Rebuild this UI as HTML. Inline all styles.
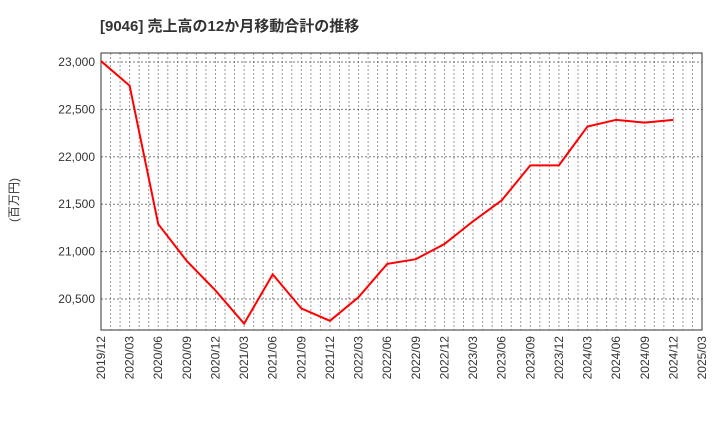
<!DOCTYPE html>
<html><head><meta charset="utf-8"><style>
body{margin:0;background:#fff;font-family:"Liberation Sans","Noto Sans CJK JP",sans-serif}
</style></head><body>
<svg width="720" height="440" xmlns="http://www.w3.org/2000/svg">
<text x="100" y="31" font-size="15" font-weight="bold" fill="#333">[9046]  売上高の12か月移動合計の推移</text>
<text transform="translate(18,200) rotate(-90)" font-size="12" fill="#333" text-anchor="middle">(百万円)</text>
<g id="grid"></g><g id="axes"></g>
<rect x="101" y="53" width="601" height="277" fill="none" stroke="#333" stroke-width="1"/>
<polyline id="line" fill="none" stroke="#f00" stroke-width="2"/>
</svg>
<script>
const categories=["2019/12","2020/03","2020/06","2020/09","2020/12","2021/03","2021/06","2021/09","2021/12","2022/03","2022/06","2022/09","2022/12","2023/03","2023/06","2023/09","2023/12","2024/03","2024/06","2024/09","2024/12","2025/03"];
const values=[23010,22750,21290,20900,20590,20240,20760,20400,20270,20520,20870,20920,21080,21320,21540,21910,21910,22320,22390,22360,22390];
const yTicks=[20500,21000,21500,22000,22500,23000];
const yTickLabels=["20,500","21,000","21,500","22,000","22,500","23,000"];
const NS="http://www.w3.org/2000/svg";
const L=101,R=702,T=53,B=330,yMin=20173,yMax=23095;
const nQ=categories.length-1;
const x=i=>L+(R-L)*i/nQ;
const y=v=>B-(v-yMin)/(yMax-yMin)*(B-T);
const grid=document.getElementById('grid'),axes=document.getElementById('axes');
function mk(tag,attrs,parent){const e=document.createElementNS(NS,tag);for(const k in attrs)e.setAttribute(k,attrs[k]);parent.appendChild(e);return e;}
for(let m=1;m<nQ*3;m++){
 const xx=L+(R-L)*m/(nQ*3);
 const g=mk('line',{x1:xx,x2:xx,y1:T,y2:B,stroke:'#999','stroke-dasharray':'2,2','stroke-width':1},grid);
 
 
}
yTicks.forEach((v,i)=>{
 const g=mk('line',{x1:L,x2:R,y1:y(v),y2:y(v),stroke:'#777','stroke-dasharray':'2,2','stroke-width':1},grid);
 
 
 const t=mk('text',{x:L-6,y:y(v)+4,'font-size':12,fill:'#333','text-anchor':'end'},axes);
 t.textContent=yTickLabels[i];
 
 
});
categories.forEach((c,i)=>{
 const t=mk('text',{transform:`translate(${x(i)+4},${B+6}) rotate(-90)`,'font-size':12,fill:'#333','text-anchor':'end'},axes);
 t.textContent=c;
 
 
});
document.getElementById('line').setAttribute('points',values.map((v,i)=>x(i)+','+y(v)).join(' '));
</script>
</body></html>
